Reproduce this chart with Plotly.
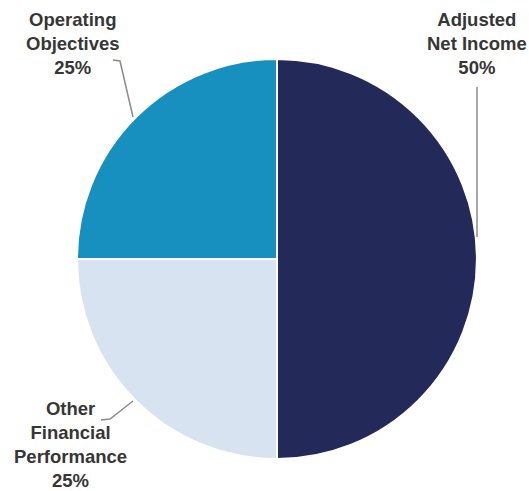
import plotly.graph_objects as go

# Data
labels = ["Adjusted Net Income", "Other Financial Performance", "Operating Objectives"]
label_text = ["Adjusted<br>Net Income<br>50%", "Other<br>Financial<br>Performance<br>25%", "Operating<br>Objectives<br>25%"]
values = [50, 25, 25]
colors = ["#232a59", "#d7e3f1", "#178fbf"]

W, H = 529, 491

def px(x, y):
    return x / W, 1 - y / H

fig = go.Figure()
x0, y1 = px(77, 459)
x1, y0 = px(477, 59)
fig.add_trace(go.Pie(
    labels=labels, values=values, sort=False, direction="clockwise", rotation=0,
    marker=dict(colors=colors, line=dict(color="white", width=2)),
    textinfo="none", hoverinfo="label+percent", showlegend=False,
    domain=dict(x=[x0, x1], y=[y1, y0]),
))

font = dict(family="Liberation Sans, Arial, sans-serif", size=18.5, color="#363636")
label_pos = [(477, 44), (70, 444), (73, 44)]
for t, (lx, ly) in zip(label_text, label_pos):
    ax_, ay_ = px(lx, ly)
    fig.add_annotation(x=ax_, y=ay_, xref="paper", yref="paper", text="<b>" + t + "</b>",
                       showarrow=False, xanchor="center", yanchor="middle", font=font, align="center")

leaders = [
    [(477, 87), (477, 237)],
    [(101, 420), (110, 419), (133, 401)],
    [(113, 60), (120, 61), (133, 117)],
]
for pts in leaders:
    p = [px(a, b) for a, b in pts]
    path = "M " + " L ".join(f"{a},{b}" for a, b in p)
    fig.add_shape(type="path", path=path, xref="paper", yref="paper",
                  line=dict(color="#8a8a8a", width=1.5))

fig.update_layout(width=W, height=H, margin=dict(l=0, r=0, t=0, b=0),
                  paper_bgcolor="white", plot_bgcolor="white")
fig.write_html("out.html", config={"displayModeBar": False},
               post_script="document.body.style.margin='0';document.body.style.overflow='hidden';")
